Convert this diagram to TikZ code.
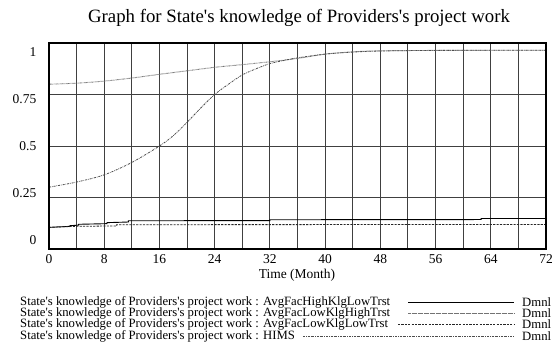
\documentclass[tikz,border=0pt]{standalone}
\usepackage{fontspec}
\setmainfont{Liberation Serif}[Ligatures=TeXOff]
\begin{document}
\begin{tikzpicture}[x=1pt,y=-1pt,
  frame/.style={line width=1.8pt,black},
  gridv/.style={line width=1pt,black!75},
  ticklab/.style={font=\fontsize{13.5}{14}\selectfont,inner sep=0pt},
  leglab/.style={font=\fontsize{12.7}{13}\selectfont,inner sep=0pt,anchor=west},
  sHigh/.style={line width=0.9pt,black},
  sLowHigh/.style={line width=0.9pt,black!55,dash pattern=on 0.6pt off 0.6pt},
  sLowLow/.style={line width=0.8pt,black!85,dash pattern=on 2.2pt off 1.2pt},
  sHims/.style={line width=0.8pt,black!70,dash pattern=on 2pt off 1pt on 0.6pt off 1pt}]
\useasboundingbox (0,0) rectangle (552,364);
\fill[white] (0,0) rectangle (552,364);
% title
\node[font=\fontsize{18.8}{20}\selectfont] (title) at (299,18) {Graph for State's knowledge of Providers's project work};
% plot area in data coordinates
\begin{scope}[shift={(49,249)},x={(6.9028pt,0pt)},y={(0pt,206pt)}]
  \foreach \t in {4,8,...,68} {\draw[gridv] (\t,0) -- (\t,1);}
  \foreach \v in {0.25,0.5,0.75} {\draw[gridv] (0,\v) -- (72,\v);}
  % data
  \draw[sHigh] (0,0.105) -- (3,0.11) -- (3,0.113) -- (4.3,0.116) -- (4.3,0.12) -- (8.4,0.123) -- (8.4,0.128) -- (11.5,0.131) -- (11.5,0.137) -- (32,0.138) -- (32,0.142) -- (62.6,0.143) -- (62.6,0.148) -- (72,0.148);
  \draw[sLowLow] (0,0.105) -- (4,0.11) -- (9.8,0.112) -- (9.8,0.118) -- (72,0.119);
  \draw[sLowHigh] plot[smooth] coordinates {(0,0.80) (4,0.805) (8,0.815) (12,0.83) (16,0.848) (20,0.865) (24,0.882) (28,0.895) (32,0.909) (36,0.925) (40,0.946) (44,0.957) (48,0.962) (56,0.964) (72,0.965)};
  \draw[sHims] plot[smooth] coordinates {(0,0.30) (4,0.325) (8,0.36) (12,0.42) (16,0.50) (18,0.55) (20,0.615) (22,0.685) (24,0.75) (26,0.80) (28,0.845) (30,0.875) (32,0.90) (34,0.915) (36,0.928) (40,0.946) (44,0.956) (48,0.961) (56,0.964) (72,0.965)};
  \draw[frame] (0,0) rectangle (72,1);
  \foreach \t in {0,8,...,72} {\node[ticklab] (xl\t) at (\t,-0.05) {\t};}
\end{scope}
% y labels
\node[ticklab,anchor=east] (y1) at (36.5,51.7) {1};
\node[ticklab,anchor=east] (y075) at (36.5,98.8) {0.75};
\node[ticklab,anchor=east] (y05) at (36.5,145.9) {0.5};
\node[ticklab,anchor=east] (y025) at (36.5,193) {0.25};
\node[ticklab,anchor=east] (y0) at (36.5,240) {0};
\node[ticklab] (xtitle) at (297,275) {Time (Month)};
% legend
\foreach \i/\yy/\name/\xs/\sty in {1/302/AvgFacHighKlgLowTrst/408/sHigh,2/313.3/AvgFacLowKlgHighTrst/408/sLowHigh,3/324.6/AvgFacLowKlgLowTrst/398/sLowLow,4/336/HIMS/303/sHims} {
  \node[leglab] (leg\i) at (20,\yy) {State's knowledge of Providers's project work : \name};
  \coordinate (la\i) at (\xs,\yy);
  \coordinate (lb\i) at (514,\yy);
  \draw[\sty] (la\i) -- (lb\i);
  \node[leglab] (unit\i) at (522,\yy) {Dmnl};
}
\end{tikzpicture}
\end{document}
